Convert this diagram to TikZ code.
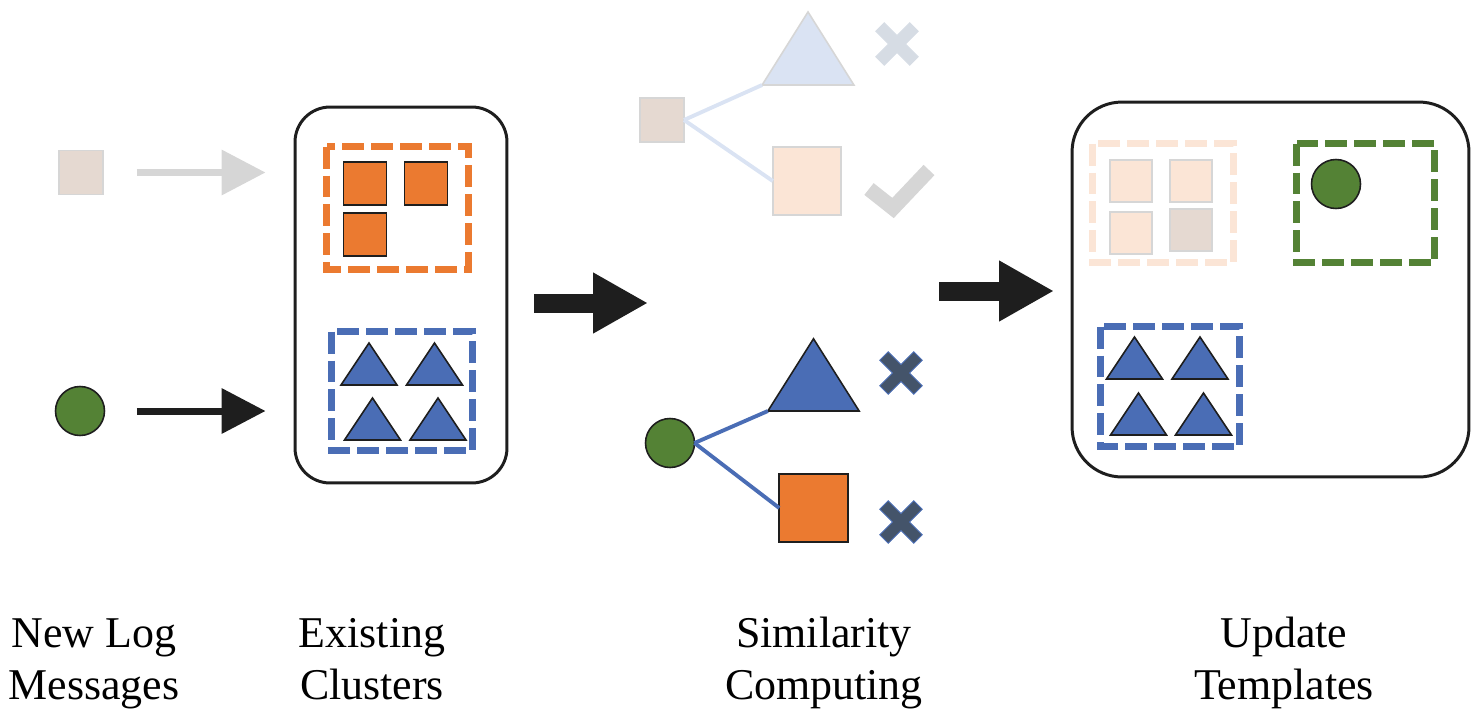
\documentclass[tikz,border=0pt]{standalone}
\usepackage{fontspec}
\setmainfont{Liberation Serif}
\usetikzlibrary{arrows.meta}

\definecolor{corange}{HTML}{EB7A30}
\definecolor{cblue}{HTML}{4A6DB5}
\definecolor{cgreen}{HTML}{548235}
\definecolor{cbeige}{HTML}{E5D9D1}
\definecolor{cpeach}{HTML}{FBE5D6}
\definecolor{cpaleblue}{HTML}{DAE3F3}
\definecolor{cfaint}{HTML}{D6D6D6}
\definecolor{cslate}{HTML}{44546A}
\definecolor{cpaleslate}{HTML}{D6DCE4}
\definecolor{cink}{HTML}{1E1E1E}

\tikzset{
  item/.style={draw=cink, line width=0.9pt, inner sep=0pt, outer sep=0pt},
  sqsmall/.style={item, rectangle, minimum size=0.86cm},
  sqbig/.style={item, rectangle, minimum size=1.37cm},
  dot/.style={item, circle, fill=cgreen, minimum size=0.98cm},
  faded/.style={draw=cfaint, line width=0.9pt},
  panel/.style={draw=cink, line width=1.7pt, rectangle, inner sep=0pt},
  group/.style={line width=0.14cm, dash pattern=on 0.44cm off 0.14cm, line join=miter},
  thinarrow/.style={line width=0.14cm, -{Triangle[length=0.88cm, width=0.88cm]}},
  fatarrow/.style={draw=cink, line width=0.38cm, -{Triangle[length=1.1cm, width=1.14cm]}},
  link/.style={line width=2.2pt},
  label/.style={font=\fontsize{25}{30}\selectfont, align=center, anchor=north, inner sep=0pt},
  tri/.pic={
    \filldraw[pic actions] (-28,0) -- (28,0) -- (0,-42) -- cycle;
    \coordinate (-bl) at (-28,0);
  },
  xmark/.pic={
    \filldraw[pic actions, rotate=45]
      (-24,-6) -- (-6,-6) -- (-6,-24) -- (6,-24) -- (6,-6) -- (24,-6)
      -- (24,6) -- (6,6) -- (6,24) -- (-6,24) -- (-6,6) -- (-24,6) -- cycle;
  },
}

\begin{document}
\begin{tikzpicture}[x=0.02cm, y=-0.02cm]
\useasboundingbox (0,0) rectangle (1473,714);

% ---------- new log messages ----------
\node[sqsmall, faded, fill=cbeige, minimum size=0.88cm] (newsq) at (81,172.5) {};
\node[dot] (newdot) at (80,411) {};

% ---------- existing clusters ----------
\node[panel, minimum width=4.24cm, minimum height=7.52cm, rounded corners=0.7cm] (clusters) at (401,295) {};
\draw[group, corange] (326.5,146.5) rectangle (468.5,269.5);
\node[sqsmall, fill=corange] (o1) at (365,183.5) {};
\node[sqsmall, fill=corange] (o2) at (426,183.5) {};
\node[sqsmall, fill=corange] (o3) at (365,234.5) {};
\draw[group, cblue] (331.5,331.5) rectangle (472.5,450.5);
\pic[fill=cblue, draw=cink, line width=0.9pt] (t1) at (369,385) {tri};
\pic[fill=cblue, draw=cink, line width=0.9pt] (t2) at (434.5,385) {tri};
\pic[fill=cblue, draw=cink, line width=0.9pt] (t3) at (372.5,440) {tri};
\pic[fill=cblue, draw=cink, line width=0.9pt] (t4) at (438,440) {tri};

% arrows into the clusters
\draw[thinarrow, cfaint, shorten <=0.68cm, shorten >=0.56cm] (newsq.east) -- (newsq.east -| clusters.west);
\draw[thinarrow, cink, shorten <=0.65cm, shorten >=0.56cm] (newdot.east) -- (newdot.east -| clusters.west);

% ---------- similarity computing ----------
\coordinate (f1a) at (534,303);
\coordinate (f1b) at (648,303);
\draw[fatarrow] (f1a) -- (f1b);

% faded comparison (already matched message)
\node[sqsmall, faded, fill=cbeige, minimum size=0.88cm] (fsq) at (662,120) {};
\pic[fill=cpaleblue, draw=cfaint, line width=0.9pt, xscale=1.64, yscale=1.74] (ft) at (808,85) {tri};
\node[sqbig, faded, fill=cpeach] (pk) at (807,181) {};
\draw[link, cpaleblue] (fsq.east) -- (ft-bl);
\draw[link, cpaleblue] (fsq.east) -- (pk.west);
\pic[fill=cpaleslate, draw=cpaleslate, line width=0.5pt] (fx) at (897,44) {xmark};
\draw[cfaint, line width=0.3cm, line join=miter] (869,189) -- (893,208) -- (929,170);

% current comparison (new message)
\node[dot] (sdot) at (670,443) {};
\pic[fill=cblue, draw=cink, line width=0.9pt, xscale=1.63, yscale=1.72] (bt) at (813.5,411) {tri};
\node[sqbig, fill=corange] (os) at (813.5,508) {};
\draw[link, cblue] (sdot.east) -- (bt-bl);
\draw[link, cblue] (sdot.east) -- (os.west);
\pic[fill=cslate, draw=cblue, line width=0.5pt] (x1) at (901,373) {xmark};
\pic[fill=cslate, draw=cblue, line width=0.5pt] (x2) at (901,522) {xmark};

% ---------- update templates ----------
\coordinate (f2a) at (939,291);
\coordinate (f2b) at (1054,291);
\draw[fatarrow] (f2a) -- (f2b);

\node[panel, minimum width=7.94cm, minimum height=7.5cm, rounded corners=1cm] (templates) at (1270.5,289.5) {};
\draw[group, cpeach] (1092.5,143.5) rectangle (1233.5,262.5);
\node[sqsmall, faded, fill=cpeach, minimum size=0.84cm] (p1) at (1131,181) {};
\node[sqsmall, faded, fill=cpeach, minimum size=0.84cm] (p2) at (1191,181) {};
\node[sqsmall, faded, fill=cpeach, minimum size=0.84cm] (p3) at (1131,233) {};
\node[sqsmall, faded, fill=cbeige, minimum size=0.84cm] (p4) at (1191,230) {};
\draw[group, cgreen] (1296.5,143.5) rectangle (1434.5,262.5);
\node[dot] (tdot) at (1336,184) {};
\draw[group, cblue] (1100.5,326.5) rectangle (1239.5,446.5);
\pic[fill=cblue, draw=cink, line width=0.9pt] (u1) at (1134.5,379) {tri};
\pic[fill=cblue, draw=cink, line width=0.9pt] (u2) at (1200,379) {tri};
\pic[fill=cblue, draw=cink, line width=0.9pt] (u3) at (1138.5,435) {tri};
\pic[fill=cblue, draw=cink, line width=0.9pt] (u4) at (1203.5,435) {tri};

% ---------- captions ----------
\node[label] (l1) at (94,610) {\strut New Log\\\strut Messages};
\node[label] (l2) at (372,610) {\strut Existing\\\strut Clusters};
\node[label] (l3) at (824,610) {\strut Similarity\\\strut Computing};
\node[label] (l4) at (1284,610) {\strut Update\\\strut Templates};
\end{tikzpicture}
\end{document}
